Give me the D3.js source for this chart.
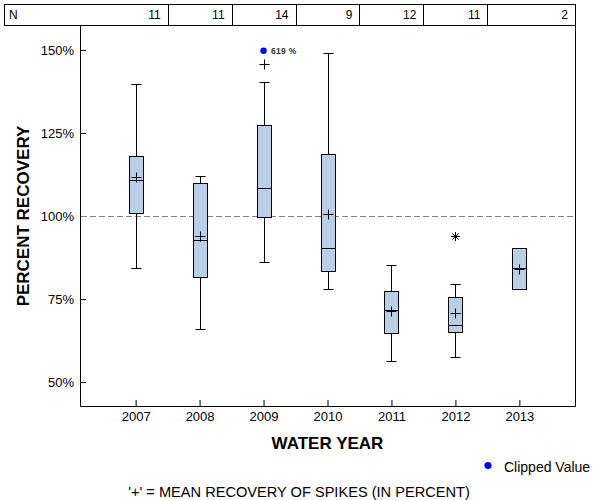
<!DOCTYPE html>
<html><head><meta charset="utf-8">
<script src="https://cdn.jsdelivr.net/npm/d3@7"></script>
<style>
body{margin:0;background:#fff;}
svg{display:block;font-family:"Liberation Sans",Arial,sans-serif;}
</style></head>
<body><svg id="chart" width="600" height="500"></svg>
<script>
const years = ["2007","2008","2009","2010","2011","2012","2013"];
const nCounts = [11, 11, 14, 9, 12, 11, 2];
const whiskerLow  = [84.2, 65.9, 86.1, 77.9, 56.2, 57.7, null];
const q1          = [100.8, 81.5, 99.6, 83.4, 64.7, 65.0, 77.9];
const median      = [110.8, 92.7, 108.3, 90.3, 71.6, 67.1, 84.2];
const q3          = [118.0, 109.8, 127.3, 118.6, 77.5, 75.7, 90.3];
const whiskerHigh = [139.8, 112.0, 140.3, 149.0, 85.2, 79.6, null];
const means       = [111.7, 93.9, 145.7, 100.7, 71.4, 70.9, 83.9];
const outlierYears = ["2012"];
const outlierValues = [94.0];
const clippedYears = ["2009"];
const clippedValues = [619];
const clipLevel = 150;
const yTicks = [50, 75, 100, 125, 150];
const referenceValue = 100;

const svg = d3.select("#chart");
const L = 80, R = 575, T = 26, B = 406;
const x = d3.scalePoint().domain(years).range([L, R]).padding(0.87);
const y = d3.scaleLinear().domain([42.8, 157.2]).range([B, T]);
const px = v => Math.round(v) + 0.5;

// N table
const tbl = svg.append("g");
tbl.append("rect").attr("x", 4.5).attr("y", 4.5).attr("width", R - 4).attr("height", 21)
  .attr("fill", "none").attr("stroke", "#000");
const step = x.step();
years.forEach((yr, i) => {
  const right = i === years.length - 1 ? R : x(yr) + step / 2;
  if (i < years.length - 1) {
    tbl.append("line").attr("x1", px(right)).attr("x2", px(right)).attr("y1", 4.5).attr("y2", 25.5)
      .attr("stroke", "#000");
  }
  tbl.append("text").attr("x", right - 7).attr("y", 19).attr("text-anchor", "end")
    .attr("font-size", 12).text(nCounts[i]);
});
tbl.append("text").attr("x", 9).attr("y", 19).attr("font-size", 12).text("N");

// frame
svg.append("path").attr("d", `M${px(L)},${T}V${px(B)}H${px(R)}V${T}`)
  .attr("fill", "none").attr("stroke", "#000");

// axes
const ya = svg.append("g").attr("transform", `translate(${px(L)-0.5},0)`)
  .call(d3.axisLeft(y).tickValues(yTicks).tickSize(-6).tickPadding(6).tickFormat(d => d + "%"));
ya.select(".domain").remove();
ya.selectAll("text").attr("font-size", 13).attr("font-family", "Liberation Sans, Arial, sans-serif").attr("fill", "#000");
const xa = svg.append("g").attr("transform", `translate(0,${px(B)-0.5})`)
  .call(d3.axisBottom(x).tickSize(-6).tickPadding(6));
xa.select(".domain").remove();
xa.selectAll("text").attr("font-size", 13).attr("font-family", "Liberation Sans, Arial, sans-serif").attr("fill", "#000");

// reference line
svg.append("line").attr("x1", L + 1).attr("x2", R).attr("y1", px(y(referenceValue))).attr("y2", px(y(referenceValue)))
  .attr("stroke", "#808080").attr("stroke-dasharray", "6,3");

// boxes
const bw = 15, cw = 9, mw = 9;
const g = svg.append("g").attr("stroke", "#000").attr("stroke-width", 1);
years.forEach((yr, i) => {
  const cx = px(x(yr));
  if (whiskerHigh[i] != null) {
    g.append("line").attr("x1", cx).attr("x2", cx).attr("y1", px(y(whiskerHigh[i]))).attr("y2", px(y(q3[i])));
    g.append("line").attr("x1", cx - cw/2 - 0.5).attr("x2", cx + cw/2 + 0.5).attr("y1", px(y(whiskerHigh[i]))).attr("y2", px(y(whiskerHigh[i])));
  }
  if (whiskerLow[i] != null) {
    g.append("line").attr("x1", cx).attr("x2", cx).attr("y1", px(y(q1[i]))).attr("y2", px(y(whiskerLow[i])));
    g.append("line").attr("x1", cx - cw/2 - 0.5).attr("x2", cx + cw/2 + 0.5).attr("y1", px(y(whiskerLow[i]))).attr("y2", px(y(whiskerLow[i])));
  }
  const top = px(y(q3[i])), bot = px(y(q1[i]));
  g.append("rect").attr("x", cx - Math.floor(bw/2)).attr("y", top).attr("width", bw - 1).attr("height", bot - top)
    .attr("fill", "#b9cfe7");
  g.append("line").attr("x1", cx - Math.floor(bw/2)).attr("x2", cx + Math.floor(bw/2)).attr("y1", px(y(median[i]))).attr("y2", px(y(median[i])));
  const my = px(y(means[i]));
  g.append("line").attr("x1", cx - mw/2 - 0.5).attr("x2", cx + mw/2 + 0.5).attr("y1", my).attr("y2", my);
  g.append("line").attr("x1", cx).attr("x2", cx).attr("y1", my - mw/2 - 0.5).attr("y2", my + mw/2 + 0.5);
});

// outliers (asterisk)
outlierYears.forEach((yr, i) => {
  const cx = px(x(yr)), cy = px(y(outlierValues[i])), r = 4.5, d = 3.2;
  g.append("path").attr("d", `M${cx-r},${cy}H${cx+r}M${cx},${cy-r}V${cy+r}M${cx-d},${cy-d}L${cx+d},${cy+d}M${cx-d},${cy+d}L${cx+d},${cy-d}`)
    .attr("fill", "none");
});

// clipped values
clippedYears.forEach((yr, i) => {
  const cx = x(yr), cy = y(clipLevel) + 0.8;
  svg.append("circle").attr("cx", cx).attr("cy", cy).attr("r", 3.2).attr("fill", "#0000ff");
  svg.append("text").attr("x", cx + 7.5).attr("y", cy + 3.2).attr("font-size", 8.5).attr("font-weight", "bold")
    .attr("fill", "#333").attr("letter-spacing", 0.3).text(clippedValues[i] + " %");
});

// axis titles
svg.append("text").attr("x", (L + R) / 2).attr("y", 449).attr("text-anchor", "middle")
  .attr("font-size", 17).attr("font-weight", "bold").text("WATER YEAR");
svg.append("text").attr("transform", `translate(29,${(T + B) / 2}) rotate(-90)`).attr("text-anchor", "middle")
  .attr("font-size", 17).attr("font-weight", "bold").text("PERCENT RECOVERY");

// legend
svg.append("circle").attr("cx", 488).attr("cy", 465.5).attr("r", 3.6).attr("fill", "#0000ff");
svg.append("text").attr("x", 504).attr("y", 471.5).attr("font-size", 14).text("Clipped Value");

// footnote
svg.append("text").attr("x", 299).attr("y", 496.5).attr("text-anchor", "middle").attr("font-size", 14.6)
  .text("'+' = MEAN RECOVERY OF SPIKES (IN PERCENT)");
</script></body></html>
